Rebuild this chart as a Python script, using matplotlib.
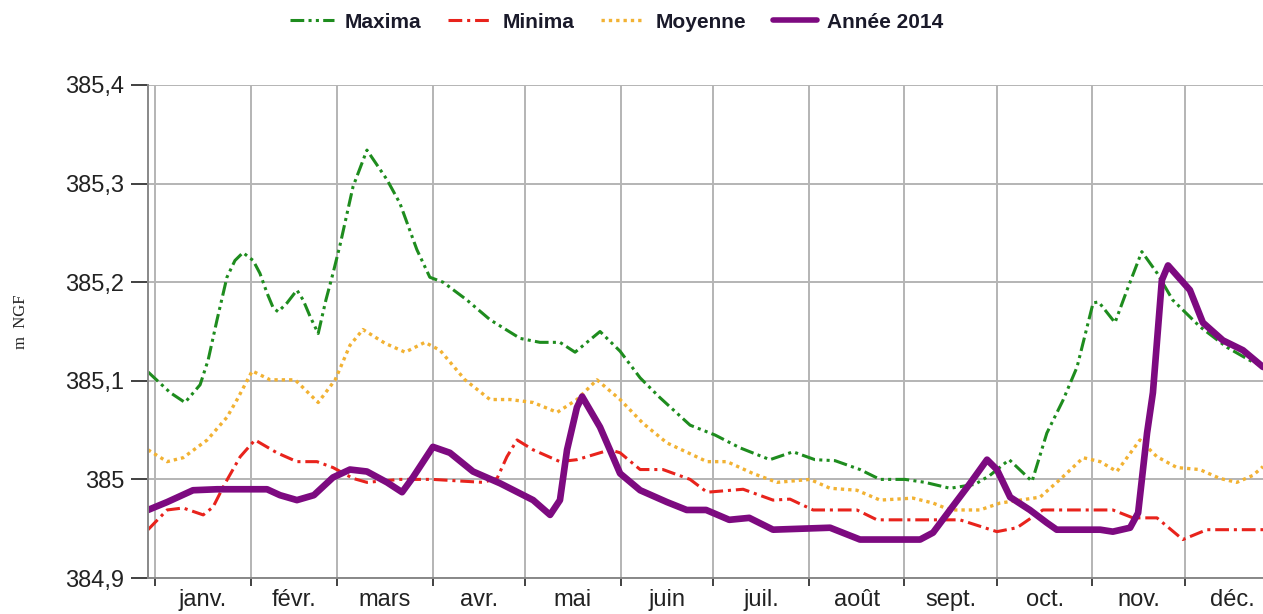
#Импорты
import matplotlib
matplotlib.use("Agg")
import matplotlib.pyplot as plt
from matplotlib.ticker import FuncFormatter, FixedLocator

#Месяцы (день года начала месяца)
month_start = [0, 31, 59, 90, 120, 151, 181, 212, 243, 273, 304, 334]
month_names = ["janv.", "févr.", "mars", "avr.", "mai", "juin",
               "juil.", "août", "sept.", "oct.", "nov.", "déc."]

#Maxima
max_day = [-2.3, 4.9, 9.7, 14.6, 17.2, 20.1, 23.3, 25.9, 28.5, 31.8, 34.0, 36.3, 38.3, 39.9,
           42.8, 46.0, 48.0, 50.3, 52.9, 55.4, 57.7, 60.0, 64.2, 68.7, 75.2, 79.4, 84.9, 89.1,
           93.4, 101.1, 108.6, 118.4, 124.8, 131.3, 136.2, 144.3, 150.8, 157.3, 163.7, 173.5,
           181.6, 189.7, 199.4, 206.9, 214.0, 220.5, 228.6, 235.1, 243.2, 249.7, 257.8, 265.9,
           270.7, 277.0, 284.4, 289.2, 294.4, 299.0, 304.2, 306.0, 311.3, 315.2, 320.0, 325.0,
           330.0, 338.8, 347.6, 356.0, 359.3]
max_val = [385.109, 385.088, 385.078, 385.096, 385.121, 385.162, 385.205, 385.222, 385.230,
           385.222, 385.209, 385.189, 385.174, 385.170, 385.179, 385.192, 385.182, 385.165,
           385.148, 385.182, 385.209, 385.238, 385.297, 385.334, 385.304, 385.280, 385.233,
           385.205, 385.200, 385.182, 385.162, 385.143, 385.139, 385.139, 385.129, 385.150,
           385.130, 385.103, 385.083, 385.055, 385.045, 385.032, 385.020, 385.028, 385.020,
           385.019, 385.010, 385.000, 385.000, 384.997, 384.991, 384.995, 385.004, 385.020,
           384.998, 385.047, 385.080, 385.114, 385.179, 385.180, 385.159, 385.192, 385.231,
           385.209, 385.182, 385.155, 385.134, 385.119, 385.116]

#Minima
min_day = [-2.3, 3.9, 9.1, 15.6, 18.8, 22.7, 27.6, 32.4, 39.5, 46.0, 52.5, 57.7, 64.2, 68.7,
           79.4, 90.1, 106.3, 110.9, 114.1, 117.4, 122.6, 131.3, 136.8, 147.5, 150.8, 157.3,
           164.7, 173.5, 179.0, 190.7, 200.4, 205.9, 213.4, 227.6, 234.1, 241.6, 261.0, 273.0,
           279.5, 287.9, 310.6, 317.1, 324.9, 333.3, 341.1, 359.3]
min_val = [384.949, 384.969, 384.971, 384.964, 384.972, 384.996, 385.023, 385.040, 385.027,
           385.018, 385.018, 385.012, 385.001, 384.997, 385.000, 385.000, 384.997, 385.001,
           385.023, 385.040, 385.030, 385.018, 385.020, 385.030, 385.027, 385.010, 385.010,
           385.000, 384.987, 384.990, 384.979, 384.980, 384.969, 384.969, 384.959, 384.959,
           384.959, 384.947, 384.951, 384.969, 384.969, 384.961, 384.961, 384.939, 384.949,
           384.949]

#Moyenne
moy_day = [-2.3, 3.9, 9.1, 16.9, 23.3, 26.6, 31.5, 37.3, 45.4, 52.9, 58.4, 63.2, 67.4, 74.6,
           81.1, 87.5, 92.4, 100.5, 108.6, 115.1, 122.6, 130.4, 136.8, 143.3, 150.8, 158.2,
           166.0, 179.0, 185.5, 193.9, 201.7, 212.4, 218.9, 227.6, 235.1, 245.8, 252.3, 257.8,
           267.5, 274.0, 287.0, 293.5, 301.0, 306.5, 311.9, 319.4, 324.9, 331.4, 338.8, 345.3,
           350.8, 356.0, 359.3]
moy_val = [385.030, 385.018, 385.022, 385.040, 385.063, 385.081, 385.110, 385.101, 385.101,
           385.078, 385.101, 385.136, 385.152, 385.138, 385.129, 385.139, 385.131, 385.101,
           385.081, 385.081, 385.078, 385.068, 385.081, 385.101, 385.081, 385.057, 385.037,
           385.018, 385.018, 385.006, 384.997, 385.000, 384.991, 384.989, 384.979, 384.981,
           384.976, 384.969, 384.969, 384.976, 384.982, 385.000, 385.022, 385.018, 385.008,
           385.040, 385.023, 385.012, 385.010, 385.001, 384.997, 385.004, 385.013]

#Année 2014
y14_day = [-2.3, 3.9, 12.3, 20.1, 36.3, 40.5, 46.0, 51.5, 57.7, 63.2, 68.7, 75.2, 80.1, 83.6,
           90.1, 95.6, 103.1, 111.9, 122.6, 128.1, 131.3, 133.6, 136.8, 138.5, 144.3, 147.5,
           150.8, 157.3, 166.0, 172.4, 178.7, 186.2, 192.7, 200.4, 218.9, 228.6, 248.1, 252.3,
           257.8, 264.3, 269.8, 273.0, 277.3, 283.7, 289.2, 292.4, 306.5, 310.6, 316.2, 318.8,
           321.7, 323.6, 326.5, 328.5, 335.6, 339.8, 346.3, 352.8, 359.3]
y14_val = [384.969, 384.977, 384.989, 384.990, 384.990, 384.984, 384.979, 384.984, 385.002,
           385.010, 385.008, 384.997, 384.987, 385.002, 385.033, 385.027, 385.008, 384.996,
           384.979, 384.964, 384.979, 385.030, 385.073, 385.084, 385.053, 385.030, 385.006,
           384.989, 384.977, 384.969, 384.969, 384.959, 384.961, 384.949, 384.951, 384.939,
           384.939, 384.946, 384.969, 384.996, 385.020, 385.010, 384.982, 384.969, 384.956,
           384.949, 384.949, 384.947, 384.951, 384.966, 385.047, 385.088, 385.202, 385.217,
           385.192, 385.159, 385.141, 385.131, 385.114]

#Фигура
fig = plt.figure(figsize=(12.63, 6.14), dpi=100)
ax = fig.add_axes([148 / 1263, 36 / 614, 1 - 148 / 1263, 493 / 614])

#Кривые
ax.plot(max_day, max_val, color="#1e8c1e", lw=2.2,
        linestyle=(0, (4.5, 1.4, 1, 1.4, 1, 1.4)), label="Maxima")
ax.plot(min_day, min_val, color="#e8231c", lw=2.2,
        linestyle=(0, (4.5, 1.6, 1, 1.6)), label="Minima")
ax.plot(moy_day, moy_val, color="#f2b233", lw=2.4,
        linestyle=(0, (1, 1.2)), label="Moyenne")
ax.plot(y14_day, y14_val, color="#7d0a80", lw=4.8,
        solid_joinstyle="round", solid_capstyle="round", label="Année 2014")

#Оси
ax.set_xlim(-2.3, 359.3)
ax.set_ylim(384.9, 385.4)
ax.set_yticks([384.9, 385.0, 385.1, 385.2, 385.3, 385.4])


def fmt(v, pos):
    s = "%.1f" % v
    s = s.replace(".", ",")
    if s.endswith(",0"):
        s = s[:-2]
    return s


ax.yaxis.set_major_formatter(FuncFormatter(fmt))
ax.xaxis.set_major_locator(FixedLocator(month_start))
ax.xaxis.set_major_formatter(FuncFormatter(lambda v, p: ""))
mid = [(month_start[i] + (month_start[i + 1] if i < 11 else 365)) / 2 for i in range(12)]
ax.set_xticks(mid, minor=True)
ax.set_xticklabels(month_names, minor=True)

ax.tick_params(axis="y", length=12, width=1.3, color="#333333", pad=5,
               labelsize=17, labelcolor="#222222")
ax.tick_params(axis="x", which="major", length=6, width=1.3, color="#333333")
ax.tick_params(axis="x", which="minor", length=0, pad=8, labelsize=17,
               labelcolor="#222222")
for lab in ax.get_yticklabels() + ax.get_xticklabels(minor=True):
    lab.set_family("Liberation Sans")

ax.grid(True, which="major", color="#b4b4b4", lw=1.4)
ax.set_axisbelow(True)
for s in ["top", "right"]:
    ax.spines[s].set_visible(False)
ax.spines["left"].set_color("#888888")
ax.spines["left"].set_linewidth(1.4)
ax.spines["bottom"].set_color("#888888")
ax.spines["bottom"].set_linewidth(1.4)

#Подпись оси Y
fig.text(21 / 1263, 1 - 322 / 614, "m  NGF", rotation=90, ha="center", va="center",
         fontsize=12, family="Liberation Serif", color="#222222")

#Легенда
leg = fig.legend(loc="center", bbox_to_anchor=(617 / 1263, 1 - 22 / 614), ncol=4,
                 frameon=False, handlelength=2.1, handletextpad=0.5, columnspacing=1.3,
                 prop={"family": "Liberation Sans", "weight": "bold", "size": 15})
for t in leg.get_texts():
    t.set_color("#1a1a2a")
leg.get_lines()[3].set_linewidth(4)

fig.savefig("out.png", dpi=100)
